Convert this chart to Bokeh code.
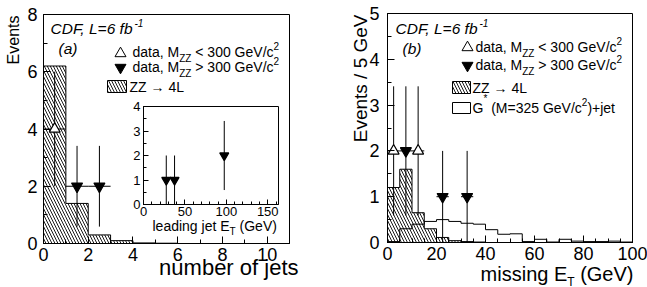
import math
from bokeh.plotting import figure
from bokeh.models import Range1d, LinearAxis, SingleIntervalTicker, Label
from bokeh.layouts import row
from bokeh.embed import file_html
from bokeh.resources import INLINE

# ---------------- data ----------------
# (a) number of jets
jet_edges = [0, 1, 2, 3, 4, 5, 6, 7, 8, 9, 10, 11]
zz_jets = [6.2, 1.4, 0.3, 0.1, 0.02, 0.01, 0.0, 0.0, 0.0, 0.0, 0.0]
lo_jets_x = [0.5]
lo_jets_y = [4.0]
lo_jets_err = [2.0]
hi_jets_x = [1.5, 2.5]
hi_jets_y = [2.0, 2.0]
hi_jets_err = [1.41, 1.41]
jets_xerr = 0.5

# inset: leading jet ET
lead_et_x = [27.5, 37.5, 97.5]
lead_et_y = [1.0, 1.0, 2.0]
lead_et_err = [1.0, 1.0, 1.41]
lead_xerr = 2.5

# (b) missing ET
met_edges = [0, 5, 10, 15, 20, 25, 30, 35, 40, 45, 50, 55, 60, 65, 70, 75, 80, 85, 90, 95, 100]
zz_met = [1.2, 1.6, 0.65, 0.3, 0.11, 0.04, 0.02, 0.01, 0.0, 0.0,
          0.0, 0.0, 0.0, 0.0, 0.0, 0.0, 0.0, 0.0, 0.0, 0.0]
g_met = [0.02, 0.3, 0.4, 0.46, 0.5, 0.46, 0.42, 0.4, 0.28, 0.18,
         0.19, 0.02, 0.07, 0.01, 0.07, 0.03, 0.02, 0.02, 0.03, 0.01]
lo_met_x = [2.5, 12.5]
lo_met_y = [2.0, 2.0]
lo_met_err = [1.41, 1.41]
hi_met_x = [7.5, 22.5, 32.5]
hi_met_y = [2.0, 1.0, 1.0]
hi_met_err = [1.41, 1.0, 1.0]
met_xerr = 2.5

FONT = "Liberation Sans"
NB = "\u00a0"

AW = {' ': 278, NB: 278, '!': 278, '(': 333, ')': 333, '*': 389, '+': 584, ',': 278, '-': 333, '.': 278,
      '/': 278, '<': 584, '=': 584, '>': 584, '\u2192': 1000,
      'A': 667, 'B': 667, 'C': 722, 'D': 722, 'E': 667, 'F': 611, 'G': 778, 'H': 722, 'I': 278,
      'J': 500, 'K': 667, 'L': 556, 'M': 833, 'N': 722, 'O': 778, 'P': 667, 'Q': 778, 'R': 722,
      'S': 667, 'T': 611, 'U': 722, 'V': 667, 'W': 944, 'X': 667, 'Y': 667, 'Z': 611,
      'a': 556, 'b': 556, 'c': 500, 'd': 556, 'e': 556, 'f': 278, 'g': 556, 'h': 556, 'i': 222,
      'j': 222, 'k': 500, 'l': 222, 'm': 833, 'n': 556, 'o': 556, 'p': 556, 'q': 556, 'r': 333,
      's': 500, 't': 278, 'u': 556, 'v': 500, 'w': 722, 'x': 500, 'y': 500, 'z': 500}
for d in "0123456789":
    AW[d] = 556


def tw(s, size):
    return sum(AW.get(c, 556) for c in s) * size / 1000.0


def rich(p, x, y, parts, xo=0.0, yo=0.0, align="left", style="normal", xr="default", yr="default"):
    total = sum(tw(t, s) for t, s, dy in parts)
    off = -total if align == "right" else 0.0
    for t, s, dy in parts:
        p.add_layout(Label(x=x, y=y, x_offset=xo + off, y_offset=yo + dy, text=t,
                           text_font=FONT, text_font_size=f"{s}px", text_font_style=style,
                           text_baseline="middle", text_align="left", text_color="black",
                           x_range_name=xr, y_range_name=yr))
        off += tw(t, s)


def style_axis(ax, size, tin=7, mtin=4):
    ax.major_tick_in = tin
    ax.major_tick_out = 0
    ax.minor_tick_in = mtin
    ax.minor_tick_out = 0
    ax.major_label_text_font = FONT
    ax.major_label_text_font_size = size
    ax.major_label_text_color = "black"
    ax.axis_line_color = "black"
    ax.major_tick_line_color = "black"
    ax.minor_tick_line_color = "black"


def hist(p, edges, vals, hatch):
    if hatch:
        p.quad(left=edges[:-1], right=edges[1:], bottom=0, top=vals, fill_color=None,
               line_color=None, hatch_pattern="\\", hatch_color="black", hatch_scale=6,
               hatch_weight=0.9)
    p.step(x=edges, y=list(vals) + [vals[-1]], mode="after", line_color="black", line_width=1)


def points(p, xs, ys, errs, xerr, marker, fill, size=11, xr="default", yr="default"):
    p.segment(x0=xs, x1=xs, y0=[y - e for y, e in zip(ys, errs)], y1=[y + e for y, e in zip(ys, errs)],
              line_color="black", line_width=1, x_range_name=xr, y_range_name=yr)
    p.segment(x0=[x - xerr for x in xs], x1=[x + xerr for x in xs], y0=ys, y1=ys,
              line_color="black", line_width=1, x_range_name=xr, y_range_name=yr)
    p.scatter(xs, ys, marker=marker, size=size, fill_color=fill, line_color="black", line_width=1.2,
              x_range_name=xr, y_range_name=yr)


def make_fig(left_px, width, X0, X1, Y0, Y1, XMAX, YMAX, H=287):
    """Figure whose frame fills the canvas; plot box placed at screen px X0..X1, Y0..Y1."""
    sx = (X1 - X0) / XMAX
    sy = (Y1 - Y0) / YMAX
    xr = Range1d(-(X0 - left_px) / sx, XMAX + (left_px + width - X1) / sx)
    yr = Range1d(-(H - Y1) / sy, YMAX + Y0 / sy)
    p = figure(width=width, height=H, x_range=xr, y_range=yr, output_backend="svg",
               toolbar_location=None, title=None, min_border=0)
    p.grid.visible = False
    p.outline_line_color = None
    p.xaxis.fixed_location = 0
    p.yaxis.fixed_location = 0
    p.xaxis.bounds = (0, XMAX)
    p.yaxis.bounds = (0, YMAX)
    return p


# ================= panel (a) =================
AX0, AX1, AY0, AY1 = 43, 289, 14, 243      # plot box in screen px
XA, YA = 11.0, 8.0
p1 = make_fig(0, 320, AX0, AX1, AY0, AY1, XA, YA)
p1.xaxis.ticker = SingleIntervalTicker(interval=2, num_minor_ticks=2)
p1.yaxis.ticker = SingleIntervalTicker(interval=2, num_minor_ticks=2)
style_axis(p1.xaxis[0], "18px")
style_axis(p1.yaxis[0], "18px")
p1.xaxis.major_label_standoff = 4
p1.yaxis.major_label_standoff = 6


def ax_(px):
    return (px - AX0) / (AX1 - AX0) * XA


def ay_(py):
    return (AY1 - py) / (AY1 - AY0) * YA


hist(p1, jet_edges, zz_jets, True)
points(p1, hi_jets_x, hi_jets_y, hi_jets_err, jets_xerr, "inverted_triangle", "black")
points(p1, lo_jets_x, lo_jets_y, lo_jets_err, jets_xerr, "triangle", "white")
p1.quad(left=0, right=XA, bottom=0, top=YA, fill_color=None, line_color="black", line_width=1)

# inset
IN_X0, IN_X1 = ax_(143), ax_(278)
IN_Y0, IN_Y1 = ay_(204), ay_(106)
IX_HI, IY_HI = 163.0, 4.0
sxi = IX_HI / (IN_X1 - IN_X0)
syi = IY_HI / (IN_Y1 - IN_Y0)
p1.extra_x_ranges = {"ix": Range1d(p1.x_range.start * sxi - IN_X0 * sxi,
                                   IX_HI + (p1.x_range.end - IN_X1) * sxi)}
p1.extra_y_ranges = {"iy": Range1d(p1.y_range.start * syi - IN_Y0 * syi,
                                   IY_HI + (p1.y_range.end - IN_Y1) * syi)}
p1.quad(left=0, right=IX_HI, bottom=0, top=IY_HI, fill_color="white", line_color="black",
        line_width=1, x_range_name="ix", y_range_name="iy")
points(p1, lead_et_x, lead_et_y, lead_et_err, lead_xerr, "inverted_triangle", "black", size=9,
       xr="ix", yr="iy")
iax = LinearAxis(x_range_name="ix", y_range_name="iy", fixed_location=0, bounds=(0, IX_HI),
                 ticker=SingleIntervalTicker(interval=50, num_minor_ticks=5))
style_axis(iax, "13px", tin=5, mtin=3)
iax.major_label_standoff = 2
p1.add_layout(iax, "below")
iay = LinearAxis(x_range_name="ix", y_range_name="iy", fixed_location=0, bounds=(0, IY_HI),
                 ticker=SingleIntervalTicker(interval=1, num_minor_ticks=2))
style_axis(iay, "13px", tin=5, mtin=3)
iay.major_label_standoff = 3
p1.add_layout(iay, "left")
rich(p1, 0, 0, [("leading jet E", 14, 0), ("T", 10, -6), (NB + "(GeV)", 14, 0)], xo=9, yo=-21,
     xr="ix", yr="iy")

# axis titles
p1.add_layout(Label(x=0, y=YA, x_offset=-30, y_offset=-1, text="Events", angle=math.pi / 2,
                    text_align="right", text_baseline="middle", text_font=FONT,
                    text_font_size="16px", text_color="black"))
p1.add_layout(Label(x=XA, y=0, x_offset=9, y_offset=-24, text="number of jets", text_align="right",
                    text_baseline="middle", text_font=FONT, text_font_size="22px", text_color="black"))

# legend / texts
rich(p1, ax_(50), ay_(28), [("CDF, L=6 fb", 15.5, 0), ("-1", 10, 6)], style="italic")
rich(p1, ax_(58), ay_(48), [("(a)", 15.5, 0)], style="italic")
p1.scatter([ax_(120)], [ay_(53)], marker="triangle", size=11, fill_color="white", line_color="black")
rich(p1, ax_(132), ay_(51), [("data, M", 14, 0), ("ZZ", 10, -7), (NB + "<" + NB + "300 GeV/c", 14, 0), ("2", 10, 6)])
p1.scatter([ax_(120)], [ay_(67)], marker="inverted_triangle", size=11, fill_color="black", line_color="black")
rich(p1, ax_(132), ay_(66), [("data, M", 14, 0), ("ZZ", 10, -7), (NB + ">" + NB + "300 GeV/c", 14, 0), ("2", 10, 6)])
p1.quad(left=[ax_(107)], right=[ax_(126)], bottom=[ay_(92)], top=[ay_(80)], fill_color=None,
        line_color="black", hatch_pattern="\\", hatch_color="black", hatch_scale=6, hatch_weight=0.9)
rich(p1, ax_(129), ay_(86), [("ZZ" + NB + "\u2192" + NB + "4L", 14, 0)])

# ================= panel (b) =================
BX0, BX1, BY0, BY1 = 387, 632, 13, 242
XB, YB = 100.0, 5.0
p2 = make_fig(320, 327, BX0, BX1, BY0, BY1, XB, YB)
p2.xaxis.ticker = SingleIntervalTicker(interval=20, num_minor_ticks=4)
p2.yaxis.ticker = SingleIntervalTicker(interval=1, num_minor_ticks=2)
style_axis(p2.xaxis[0], "18px")
style_axis(p2.yaxis[0], "18px")
p2.xaxis.major_label_standoff = 4
p2.yaxis.major_label_standoff = 8


def bx_(px):
    return (px - BX0) / (BX1 - BX0) * XB


def by_(py):
    return (BY1 - py) / (BY1 - BY0) * YB


hist(p2, met_edges, zz_met, True)
hist(p2, met_edges, g_met, False)
points(p2, hi_met_x, hi_met_y, hi_met_err, met_xerr, "inverted_triangle", "black")
points(p2, lo_met_x, lo_met_y, lo_met_err, met_xerr, "triangle", "white")
p2.quad(left=0, right=XB, bottom=0, top=YB, fill_color=None, line_color="black", line_width=1)

p2.add_layout(Label(x=0, y=YB, x_offset=-27, y_offset=-1, text="Events / 5 GeV", angle=math.pi / 2,
                    text_align="right", text_baseline="middle", text_font=FONT,
                    text_font_size="19px", text_color="black"))
rich(p2, XB, 0, [("missing E", 20, 0), ("T", 12, -8), (NB + "(GeV)", 20, 0)], xo=1, yo=-31, align="right")

rich(p2, bx_(395), by_(28), [("CDF, L=6 fb", 15.5, 0), ("-1", 10, 6)], style="italic")
rich(p2, bx_(402), by_(48), [("(b)", 15.5, 0)], style="italic")
p2.scatter([bx_(467)], [by_(47)], marker="triangle", size=11, fill_color="white", line_color="black")
rich(p2, bx_(475), by_(46), [("data, M", 14, 0), ("ZZ", 10, -7), (NB + "<" + NB + "300 GeV/c", 14, 0), ("2", 10, 6)])
p2.scatter([bx_(467)], [by_(65)], marker="inverted_triangle", size=11, fill_color="black", line_color="black")
rich(p2, bx_(475), by_(64), [("data, M", 14, 0), ("ZZ", 10, -7), (NB + ">" + NB + "300 GeV/c", 14, 0), ("2", 10, 6)])
p2.quad(left=[bx_(452)], right=[bx_(470)], bottom=[by_(93)], top=[by_(81)], fill_color=None,
        line_color="black", hatch_pattern="\\", hatch_color="black", hatch_scale=6, hatch_weight=0.9)
rich(p2, bx_(472), by_(87), [("ZZ" + NB + "\u2192" + NB + "4L", 14, 0)])
p2.quad(left=[bx_(452)], right=[bx_(470)], bottom=[by_(113)], top=[by_(102)], fill_color="white",
        line_color="black")
rich(p2, bx_(472), by_(107), [("G", 14, 0), ("*", 10, 9), (NB + "(M=325 GeV/c", 14, 0), ("2", 10, 6),
                                (")+jet", 14, 0)])

layout = row(p1, p2, spacing=0)
open("out.html", "w").write(file_html(layout, INLINE))
